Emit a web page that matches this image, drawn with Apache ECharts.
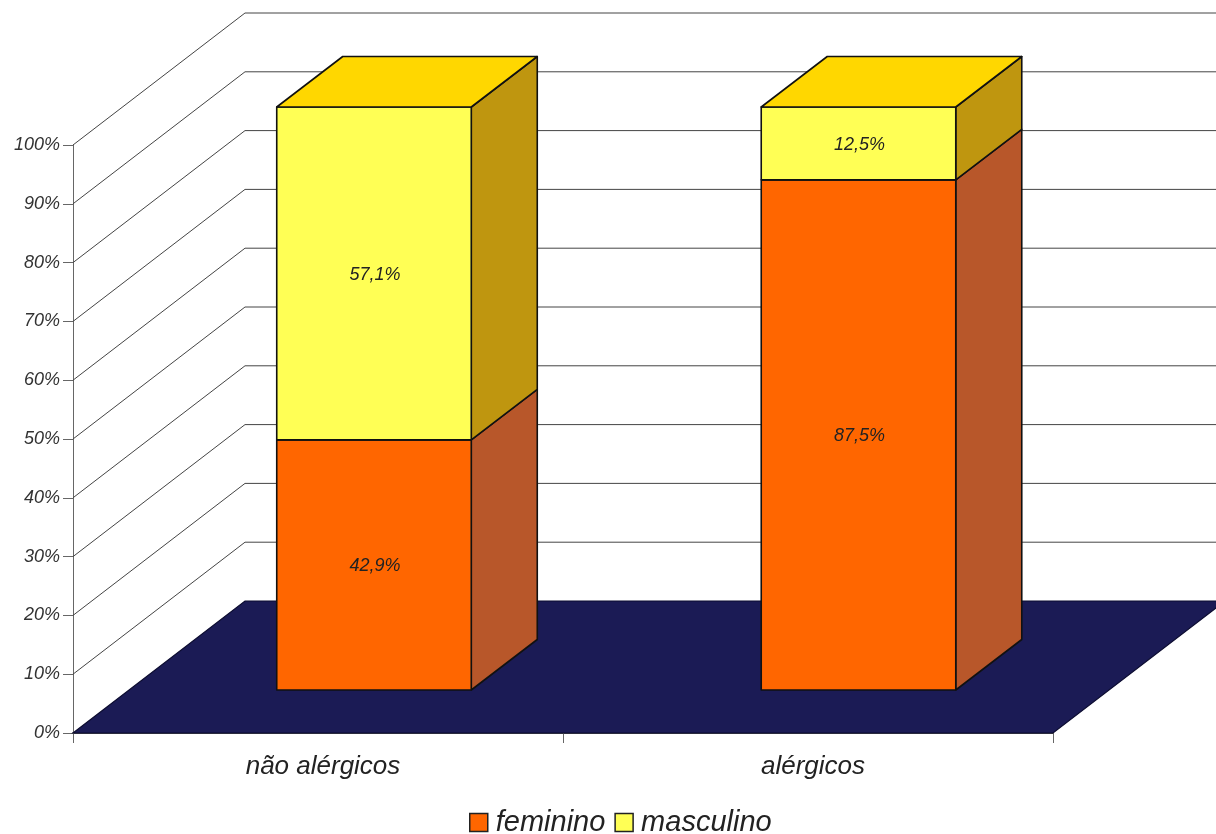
<!DOCTYPE html>
<html>
<head>
<meta charset="utf-8">
<style>html,body{margin:0;padding:0;background:#fff}#chart{width:1216px;height:834px}</style>
<script src="https://cdn.jsdelivr.net/npm/echarts@6/dist/echarts.min.js"></script>
</head>
<body>
<div id="chart"></div>
<script>
// Chart content
const categories = ['não alérgicos', 'alérgicos'];
const feminino = [42.9, 87.5];
const masculino = [57.1, 12.5];
const percentTicks = [0, 10, 20, 30, 40, 50, 60, 70, 80, 90, 100];

// Oblique projection of the 3D box
const WALL_DEPTH = [172, -132];
const BAR_OFFSET = [56, -43];
const BAR_DEPTH = [66, -50.5];
const BAR_WIDTH_RATIO = 0.397;
const BAR_RISE = 0.9915;
const BAR_SHIFT = [0, -5.5];

const FONT = '"Liberation Sans", Arial, sans-serif';
const OUTLINE = { stroke: '#111', lineWidth: 1.6, lineJoin: 'round' };

const formatPercent = v => v.toFixed(1).replace('.', ',') + '%';

// Floor and the gridlines running across the side and back walls
function renderFrame(params, api) {
  const cs = params.coordSys;
  const v = api.value(0);
  const y = api.coord([0, v])[1];
  const left = cs.x, right = cs.x + cs.width;
  const children = [];
  if (v === 0) {
    children.push({
      type: 'polygon',
      shape: { points: [
        [left, y],
        [left + WALL_DEPTH[0], y + WALL_DEPTH[1]],
        [right + WALL_DEPTH[0], y + WALL_DEPTH[1]],
        [right, y]
      ] },
      style: { fill: '#1b1b55', stroke: '#0c0c30', lineWidth: 1.2 }
    });
  } else {
    children.push({
      type: 'polyline',
      shape: { points: [
        [left, y],
        [left + WALL_DEPTH[0], y + WALL_DEPTH[1]],
        [right + WALL_DEPTH[0], y + WALL_DEPTH[1]]
      ] },
      style: { fill: 'none', stroke: '#444', lineWidth: 1 }
    });
  }
  return { type: 'group', children };
}

// One stacked segment: front face, right side and, for the top segment, the lid
function segmentRenderer(front, side, lid) {
  return function (params, api) {
    const cat = api.value(0);
    const base = api.value(1);
    const value = api.value(2);
    const isTop = api.value(3) === 1;
    const w = api.size([1, 0])[0] * BAR_WIDTH_RATIO;
    const origin = api.coord([cat, 0]);
    const yOf = v => origin[1] + BAR_OFFSET[1] + (api.coord([cat, v])[1] - origin[1]) * BAR_RISE;
    const x0 = origin[0] + BAR_OFFSET[0] + BAR_SHIFT[cat] - w / 2;
    const x1 = x0 + w;
    const yb = yOf(base), yt = yOf(base + value);
    const [dx, dy] = BAR_DEPTH;
    const children = [
      {
        type: 'polygon',
        shape: { points: [[x1, yb], [x1 + dx, yb + dy], [x1 + dx, yt + dy], [x1, yt]] },
        style: Object.assign({ fill: side }, OUTLINE)
      },
      {
        type: 'polygon',
        shape: { points: [[x0, yb], [x1, yb], [x1, yt], [x0, yt]] },
        style: Object.assign({ fill: front }, OUTLINE)
      }
    ];
    if (isTop) {
      children.push({
        type: 'polygon',
        shape: { points: [[x0, yt], [x1, yt], [x1 + dx, yt + dy], [x0 + dx, yt + dy]] },
        style: Object.assign({ fill: lid }, OUTLINE)
      });
    }
    children.push({
      type: 'text',
      style: {
        text: formatPercent(value),
        x: (x0 + x1) / 2 + 1,
        y: (yb + yt) / 2 + 1.5,
        align: 'center',
        verticalAlign: 'middle',
        fill: '#222',
        font: 'italic 18px ' + FONT
      }
    });
    return { type: 'group', children };
  };
}

const chart = echarts.init(document.getElementById('chart'), null, { renderer: 'canvas' });
chart.setOption({
  animation: false,
  backgroundColor: '#fff',
  grid: { left: 73, right: 163, top: 145, bottom: 101, containLabel: false },
  legend: {
    left: 469,
    top: 808,
    icon: 'rect',
    itemWidth: 18,
    itemHeight: 18,
    itemGap: 9,
    padding: 0,
    data: ['feminino', 'masculino'],
    itemStyle: { borderColor: '#222', borderWidth: 1.5 },
    textStyle: { fontFamily: FONT, fontStyle: 'italic', fontSize: 29, color: '#222', padding: [0, 0, 0, 3] }
  },
  xAxis: {
    type: 'category',
    data: categories,
    axisLine: { show: true, lineStyle: { color: '#111', width: 1.5 } },
    axisTick: { show: true, length: 10, lineStyle: { color: '#666', width: 1 } },
    axisLabel: {
      margin: 21,
      fontFamily: FONT,
      fontStyle: 'italic',
      fontSize: 26,
      color: '#222',
      padding: [0, 0, 0, 10]
    }
  },
  yAxis: {
    type: 'value',
    min: percentTicks[0],
    max: percentTicks[percentTicks.length - 1],
    interval: percentTicks[1] - percentTicks[0],
    splitLine: { show: false },
    axisLine: { show: true, lineStyle: { color: '#666', width: 1 } },
    axisTick: { show: true, length: 10, lineStyle: { color: '#666', width: 1 } },
    axisLabel: {
      margin: 13,
      formatter: '{value}%',
      fontFamily: FONT,
      fontStyle: 'italic',
      fontSize: 18,
      color: '#333',
      padding: [2, 0, 0, 0]
    }
  },
  series: [
    {
      type: 'custom',
      name: 'frame',
      silent: true,
      renderItem: renderFrame,
      encode: { y: 0 },
      data: percentTicks.map(v => [v])
    },
    {
      type: 'custom',
      name: 'feminino',
      itemStyle: { color: '#ff6600' },
      renderItem: segmentRenderer('#ff6600', '#b8572a', '#ffd400'),
      encode: { x: 0, y: 2 },
      data: categories.map((c, i) => [i, 0, feminino[i], 0])
    },
    {
      type: 'custom',
      name: 'masculino',
      itemStyle: { color: '#ffff55' },
      renderItem: segmentRenderer('#ffff55', '#bf960f', '#ffd700'),
      encode: { x: 0, y: 2 },
      data: categories.map((c, i) => [i, feminino[i], masculino[i], 1])
    }
  ]
});
</script>
</body>
</html>
